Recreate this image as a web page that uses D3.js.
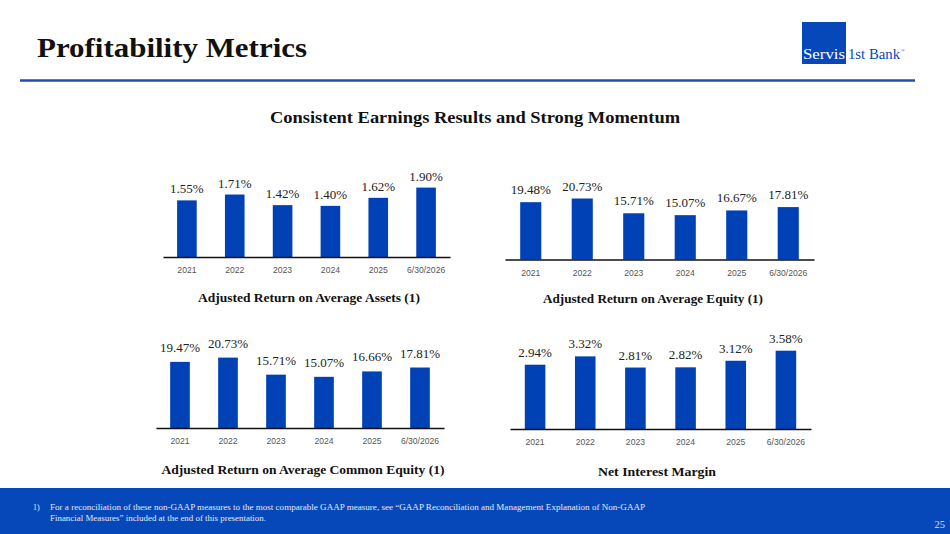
<!DOCTYPE html>
<html>
<head>
<meta charset="utf-8">
<script src="https://cdn.jsdelivr.net/npm/d3@7"></script>
<style>
  html, body { margin: 0; padding: 0; background: #fff; }
  svg { display: block; }
</style>
</head>
<body>
<svg id="slide" width="950" height="534"></svg>
<script>
// data
const years = ['2021', '2022', '2023', '2024', '2025', '6/30/2026']
const roaa  = [1.55, 1.71, 1.42, 1.40, 1.62, 1.90]
const roae  = [19.48, 20.73, 15.71, 15.07, 16.67, 17.81]
const roace = [19.47, 20.73, 15.71, 15.07, 16.66, 17.81]
const nim   = [2.94, 3.32, 2.81, 2.82, 3.12, 3.58]

const titles = [
  'Adjusted Return on Average Assets (1)',
  'Adjusted Return on Average Equity (1)',
  'Adjusted Return on Average Common Equity (1)',
  'Net Interest Margin'
]

const barColor = '#0042b5'
const blue = '#0648ba'
const serif = '"Liberation Serif", "Times New Roman", serif'
const sans = '"Liberation Sans", Arial, sans-serif'

// where each little chart sits on the slide
const panels = [
  {values: roaa,  title: titles[0], x0: 163, x1: 450, base: 257,   h: 69.4, gap: 7,  tx: 309, ty: 302, tl: 222},
  {values: roae,  title: titles[1], x0: 505, x1: 814, base: 259.5, h: 61,   gap: 8,  tx: 653, ty: 303, tl: 220},
  {values: roace, title: titles[2], x0: 156, x1: 444, base: 428,   h: 70.4, gap: 10, tx: 303, ty: 474, tl: 283},
  {values: nim,   title: titles[3], x0: 510, x1: 811, base: 429,   h: 78.3, gap: 8,  tx: 657, ty: 476, tl: 118}
]

const svg = d3.select('#slide')

// header
svg.append('text')
  .attr('x', 37).attr('y', 57)
  .attr('font-family', serif).attr('font-weight', 'bold').attr('font-size', 28)
  .attr('fill', '#111')
  .attr('textLength', 270).attr('lengthAdjust', 'spacingAndGlyphs')
  .text('Profitability Metrics')

svg.append('line')
  .attr('x1', 20).attr('x2', 915).attr('y1', 80.5).attr('y2', 80.5)
  .attr('stroke', '#1f4fb5').attr('stroke-width', 2.5)

// logo
svg.append('rect')
  .attr('x', 802).attr('y', 22).attr('width', 44).attr('height', 42)
  .attr('fill', blue)
svg.append('text')
  .attr('x', 803).attr('y', 59)
  .attr('font-family', serif).attr('font-size', 15).attr('fill', '#fff')
  .attr('textLength', 42).attr('lengthAdjust', 'spacingAndGlyphs')
  .text('Servis')
svg.append('text')
  .attr('x', 848).attr('y', 59)
  .attr('font-family', serif).attr('font-size', 15).attr('fill', blue)
  .attr('textLength', 52).attr('lengthAdjust', 'spacingAndGlyphs')
  .text('1st Bank')
svg.append('text')
  .attr('x', 901).attr('y', 52)
  .attr('font-family', serif).attr('font-size', 5).attr('fill', blue)
  .text('®')

svg.append('text')
  .attr('x', 475).attr('y', 123)
  .attr('text-anchor', 'middle')
  .attr('font-family', serif).attr('font-weight', 'bold').attr('font-size', 16)
  .attr('fill', '#111')
  .attr('textLength', 410).attr('lengthAdjust', 'spacingAndGlyphs')
  .text('Consistent Earnings Results and Strong Momentum')

const fmt = d => d3.format('.2f')(d) + '%'

const render = (selection, p) => {
  const x = d3.scaleBand().domain(years).range([p.x0, p.x1])
    .paddingInner(0.59).paddingOuter(0.295)
  const y = d3.scaleLinear().domain([0, d3.max(p.values)]).range([p.base, p.base - p.h])
  const rows = years.map((k, i) => ({year: k, v: p.values[i]}))

  const g = selection.append('g')

  g.selectAll('.bar').data(rows).enter().append('rect')
    .attr('class', 'bar')
    .attr('x', d => x(d.year))
    .attr('width', x.bandwidth())
    .attr('y', d => y(d.v))
    .attr('height', d => y(0) - y(d.v))
    .attr('fill', barColor)

  g.selectAll('.val').data(rows).enter().append('text')
    .attr('class', 'val')
    .attr('x', d => x(d.year) + x.bandwidth() / 2)
    .attr('y', d => y(d.v) - p.gap)
    .attr('text-anchor', 'middle')
    .attr('font-family', serif).attr('font-size', 13).attr('fill', '#222')
    .text(d => fmt(d.v))

  const axis = g.append('g')
    .attr('transform', `translate(0,${p.base})`)
    .call(d3.axisBottom(x).tickSize(0).tickPadding(10).tickSizeOuter(0))
  axis.select('.domain').attr('stroke', '#111').attr('stroke-width', 1.6)
  axis.selectAll('text')
    .attr('font-family', sans).attr('font-size', 8.6).attr('fill', '#555')

  g.append('text')
    .attr('x', p.tx).attr('y', p.ty)
    .attr('text-anchor', 'middle')
    .attr('font-family', serif).attr('font-weight', 'bold').attr('font-size', 13)
    .attr('fill', '#111')
    .attr('textLength', p.tl).attr('lengthAdjust', 'spacingAndGlyphs')
    .text(p.title)
}

panels.forEach(p => render(svg, p))

// footer
svg.append('rect')
  .attr('x', 0).attr('y', 488).attr('width', 950).attr('height', 46)
  .attr('fill', blue)
svg.append('text')
  .attr('x', 33).attr('y', 509.5)
  .attr('font-family', serif).attr('font-size', 8).attr('fill', '#e4e9f5')
  .text('1)')
svg.append('text')
  .attr('x', 50).attr('y', 509.5)
  .attr('font-family', serif).attr('font-size', 8).attr('fill', '#e4e9f5')
  .attr('textLength', 595).attr('lengthAdjust', 'spacingAndGlyphs')
  .text('For a reconciliation of these non-GAAP measures to the most comparable GAAP measure, see \u201CGAAP Reconciliation and Management Explanation of Non-GAAP')
svg.append('text')
  .attr('x', 50).attr('y', 521)
  .attr('font-family', serif).attr('font-size', 8).attr('fill', '#e4e9f5')
  .attr('textLength', 216).attr('lengthAdjust', 'spacingAndGlyphs')
  .text('Financial Measures\u201D included at the end of this presentation.')
svg.append('text')
  .attr('x', 945).attr('y', 528)
  .attr('text-anchor', 'end')
  .attr('font-family', serif).attr('font-size', 10.5).attr('fill', '#d8def0')
  .text('25')
</script>
</body>
</html>
